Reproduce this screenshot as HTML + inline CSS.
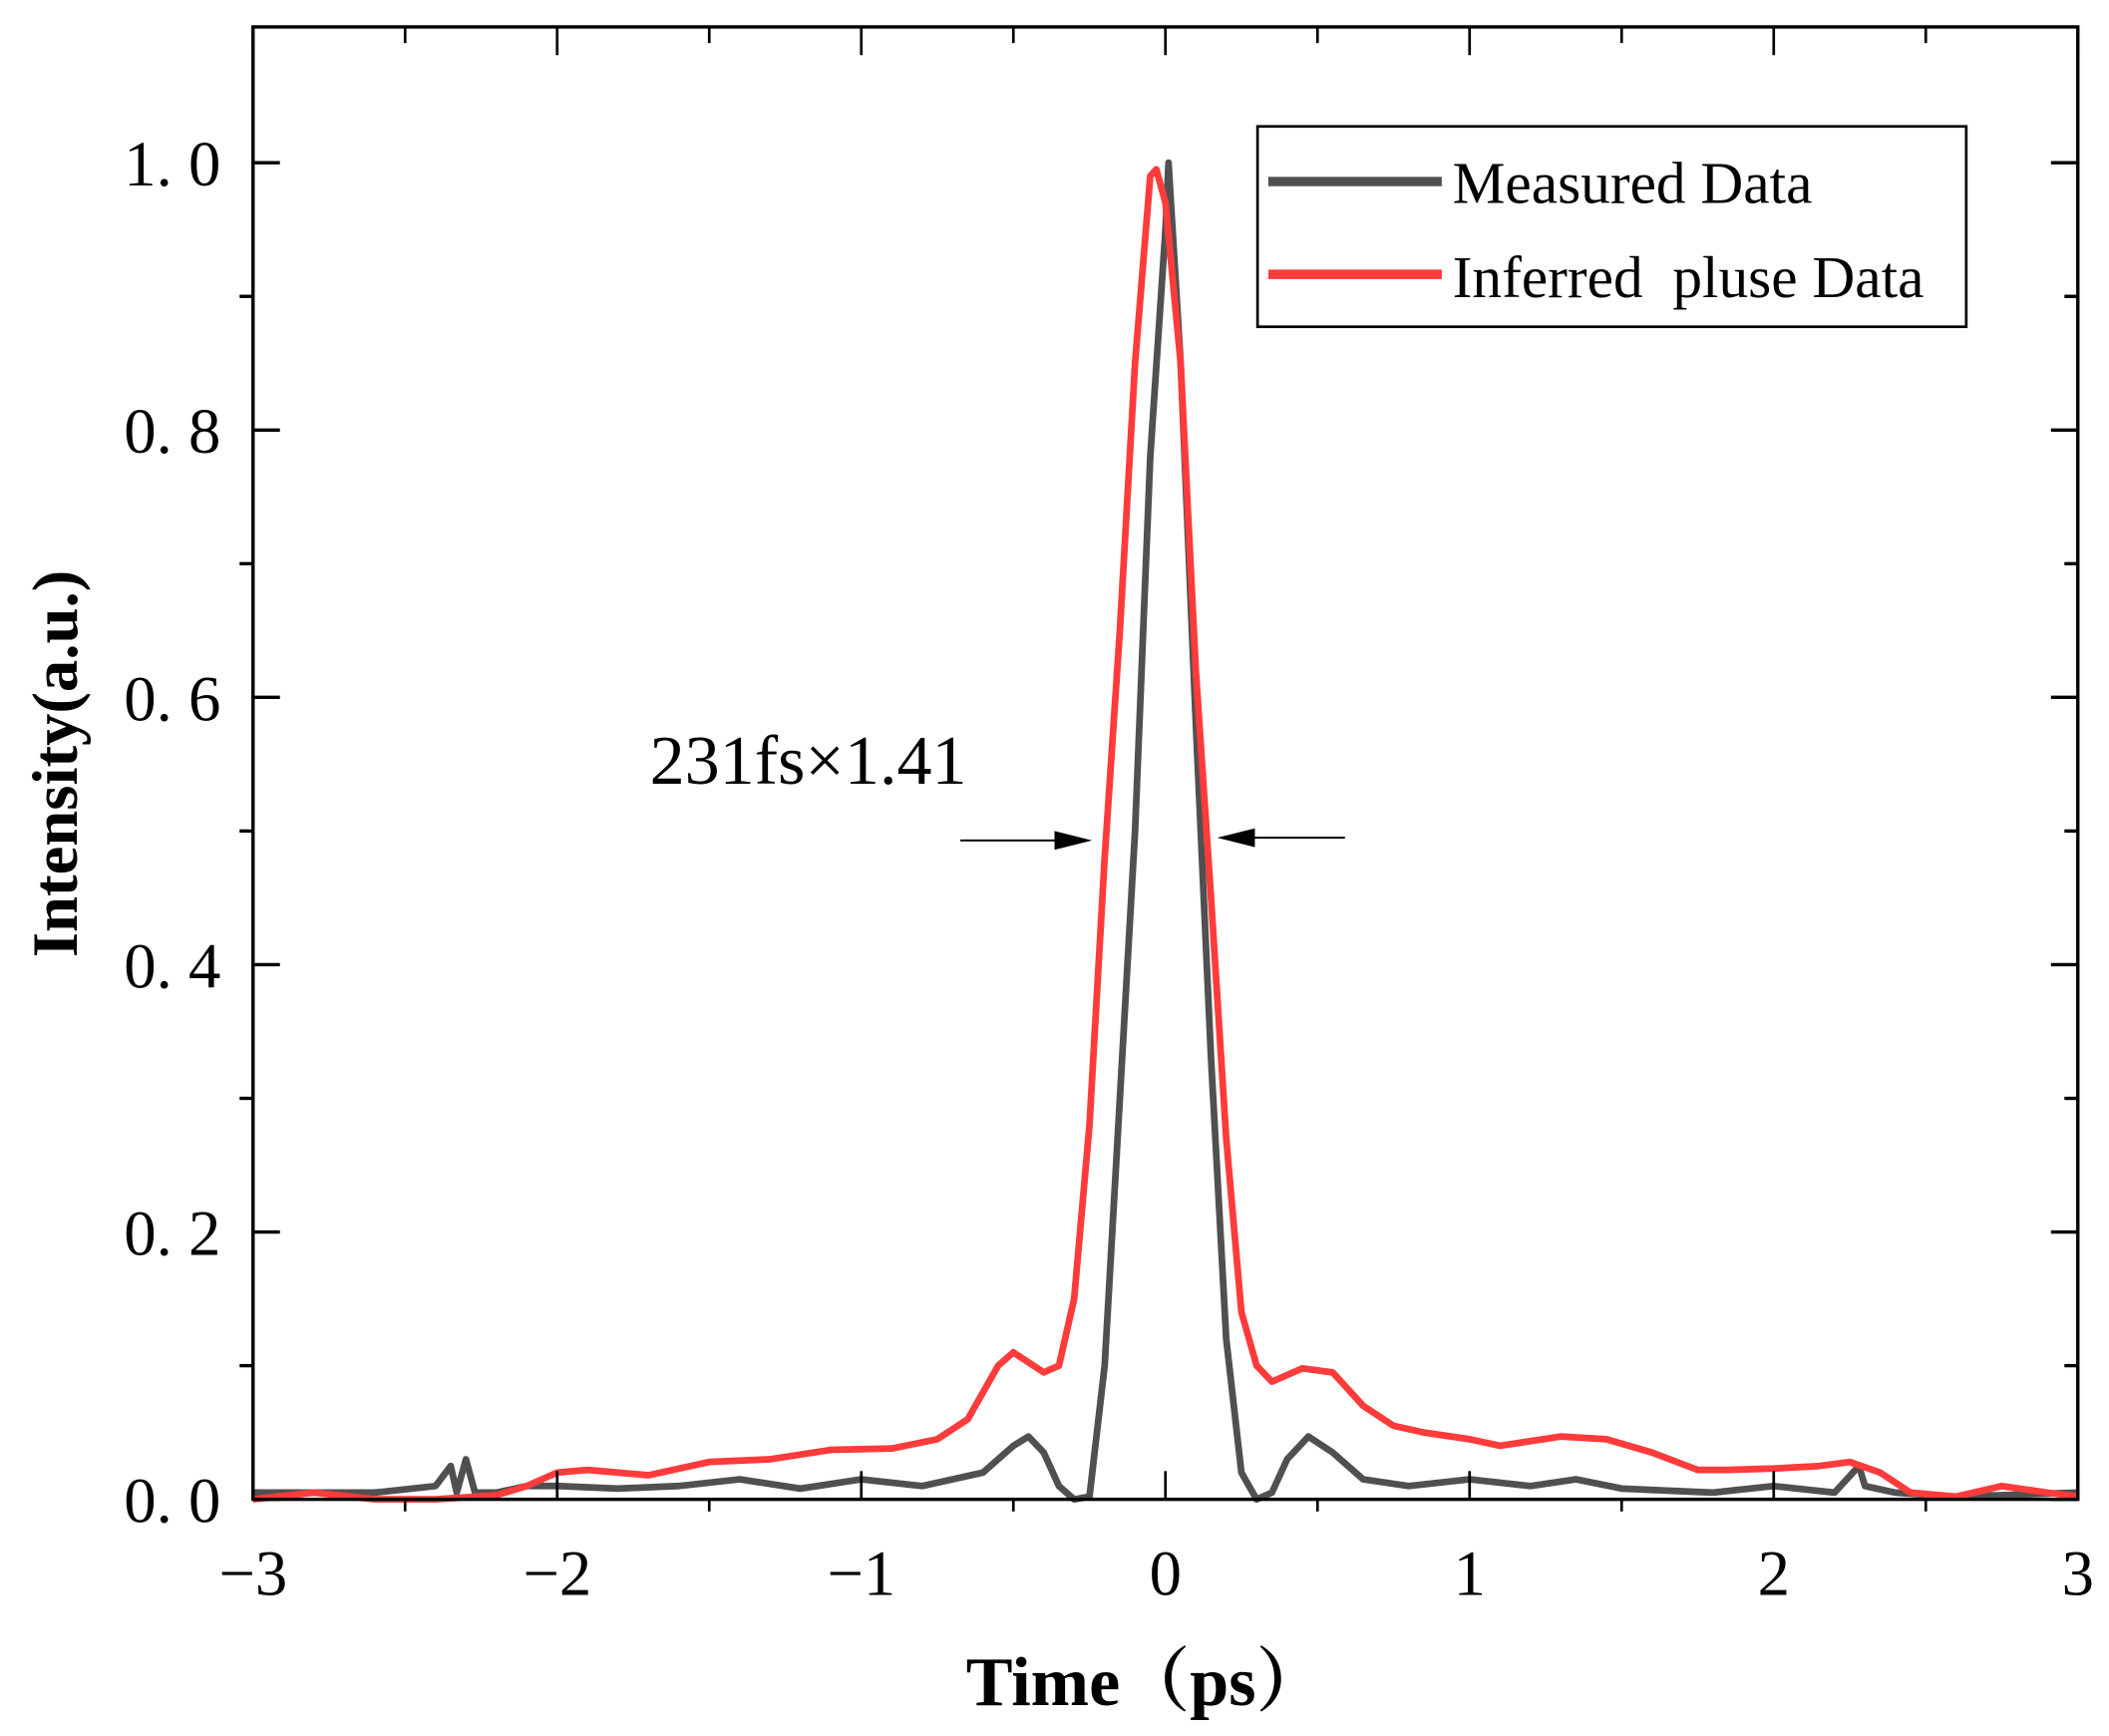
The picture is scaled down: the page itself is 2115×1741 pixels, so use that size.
<!DOCTYPE html>
<html><head><meta charset="utf-8"><style>
html,body{margin:0;padding:0;background:#fff;}
svg{display:block;}
text{font-family:"Liberation Serif","Noto Serif CJK SC",serif;}
</style></head><body>
<svg id="chart" width="2115" height="1741" viewBox="0 0 1568 1291">
<g id="plot"></g>
<g id="axes"></g>
</svg>
<script>
const measuredX = [-3,-2.8,-2.6,-2.4,-2.35,-2.33,-2.3,-2.27,-2.2,-2.1,-2,-1.8,-1.6,-1.4,-1.2,-1.0,-0.8,-0.6,-0.5,-0.45,-0.4,-0.35,-0.3,-0.25,-0.2,-0.15,-0.1,-0.05,0,0.01,0.05,0.1,0.15,0.2,0.25,0.3,0.35,0.4,0.47,0.55,0.65,0.8,1.0,1.2,1.35,1.5,1.8,2.0,2.2,2.28,2.3,2.4,2.6,3];
const measuredY = [0.005,0.005,0.005,0.01,0.025,0.005,0.03,0.005,0.005,0.01,0.01,0.008,0.01,0.015,0.008,0.015,0.01,0.02,0.04,0.047,0.035,0.01,0.0,0.002,0.1,0.3,0.5,0.78,0.95,1.0,0.85,0.58,0.33,0.12,0.02,0.0,0.005,0.03,0.047,0.035,0.015,0.01,0.015,0.01,0.015,0.008,0.005,0.01,0.005,0.025,0.01,0.005,0.002,0.005];
const inferredX = [-3,-2.8,-2.6,-2.4,-2.2,-2.1,-2.0,-1.9,-1.7,-1.5,-1.3,-1.1,-0.9,-0.75,-0.65,-0.55,-0.5,-0.4,-0.35,-0.3,-0.25,-0.2,-0.15,-0.1,-0.05,-0.03,0,0.05,0.1,0.15,0.2,0.25,0.3,0.35,0.45,0.55,0.65,0.75,0.85,1.0,1.1,1.3,1.45,1.6,1.75,1.85,2.0,2.15,2.25,2.35,2.45,2.6,2.75,2.9,3];
const inferredY = [0.0,0.005,0.0,0.0,0.003,0.01,0.02,0.022,0.018,0.028,0.03,0.037,0.038,0.045,0.06,0.1,0.11,0.095,0.1,0.15,0.28,0.48,0.65,0.85,0.99,0.995,0.97,0.85,0.62,0.45,0.27,0.14,0.1,0.088,0.098,0.095,0.07,0.055,0.05,0.045,0.04,0.047,0.045,0.035,0.022,0.022,0.023,0.025,0.028,0.02,0.005,0.002,0.01,0.005,0.002];
const xTicks = [-3,-2,-1,0,1,2,3];
const xTickLabels = ["\u22123","\u22122","\u22121","0","1","2","3"];
const yTicks = [0,0.2,0.4,0.6,0.8,1.0];
const yTickLabels = ["0. 0","0. 2","0. 4","0. 6","0. 8","1. 0"];

const L=188,R=1545,T=20,B=1115;
const xs = v => L + (v+3)/6*(R-L);
const ys = v => B - v*(B-121);
const NS="http://www.w3.org/2000/svg";
const plot=document.getElementById('plot'), axes=document.getElementById('axes');
function mk(tag,attrs,parent){const e=document.createElementNS(NS,tag);for(const k in attrs)e.setAttribute(k,attrs[k]);parent.appendChild(e);return e;}

function path(xa,ya){return xa.map((x,i)=>(i?'L':'M')+xs(x).toFixed(1)+','+ys(ya[i]).toFixed(1)).join('');}
const m=mk('path',{d:path(measuredX,measuredY),fill:'none',stroke:'#505050','stroke-width':5,'stroke-linejoin':'round'},plot);


const r=mk('path',{d:path(inferredX,inferredY),fill:'none',stroke:'#ff3b3b','stroke-width':5,'stroke-linejoin':'round'},plot);



const f=mk('rect',{x:L,y:T,width:R-L,height:B-T,fill:'none',stroke:'#000','stroke-width':2.5},axes);


for(let v=-3;v<=3.001;v+=0.5){
  const X=xs(v), major=Math.abs(v-Math.round(v))<1e-6;
  mk('line',{x1:X,x2:X,y1:B,y2:major?B-21:B+9,stroke:'#000','stroke-width':2},axes);
  mk('line',{x1:X,x2:X,y1:T,y2:T+(major?21:12),stroke:'#000','stroke-width':2},axes);
}
xTicks.forEach((v,i)=>{
  const t=mk('text',{x:xs(v),y:1186,'font-size':48,'text-anchor':'middle'},axes);
  t.textContent=xTickLabels[i];
  
  
});
for(let k=0;k<=10;k++){
  const v=k/10,Y=ys(v),major=k%2==0;
  mk('line',{x1:L,x2:L+(major?20:-10),y1:Y,y2:Y,stroke:'#000','stroke-width':2.5},axes);
  mk('line',{x1:R,x2:R-(major?20:10),y1:Y,y2:Y,stroke:'#000','stroke-width':2.5},axes);
}
yTicks.forEach((v,i)=>{
  const t=mk('text',{x:164,y:ys(v)+17,'font-size':48,'text-anchor':'end'},axes);
  t.textContent=yTickLabels[i];
  
  
});
</script>
<svg style="position:absolute;left:0;top:0" width="2115" height="1741" viewBox="0 0 1568 1291">
<text x="852" y="1268" font-size="52" font-weight="bold" text-anchor="middle" style="font-family:'Liberation Serif','Noto Serif CJK SC',serif">Time（ps）</text>
<text transform="translate(57,568) rotate(-90)" font-size="48" font-weight="bold" text-anchor="middle" style="font-family:'Liberation Serif',serif">Intensity(a.u.)</text>
<g>
<rect x="935" y="94" width="527" height="149" fill="#fff" stroke="#000" stroke-width="2"/>
<line x1="943" x2="1072" y1="135" y2="135" stroke="#505050" stroke-width="7"/>
<text x="1080" y="151" font-size="44" style="font-family:'Liberation Serif',serif">Measured Data</text>
<line x1="943" x2="1072" y1="204" y2="204" stroke="#ff3b3b" stroke-width="7"/>
<text x="1080" y="221" font-size="44" xml:space="preserve" style="font-family:'Liberation Serif',serif">Inferred  pluse Data</text>
</g>
<text x="483" y="583" font-size="52" style="font-family:'Liberation Serif',serif">231fs×1.41</text>
<g>
<line x1="714" x2="795" y1="625" y2="625" stroke="#000" stroke-width="1.5"/>
<polygon points="812,625 784,618 784,632" fill="#000"/>
<line x1="1000" x2="922" y1="623" y2="623" stroke="#000" stroke-width="1.5"/>
<polygon points="905,623 933,616 933,630" fill="#000"/>
</g>
</svg>
</body></html>
